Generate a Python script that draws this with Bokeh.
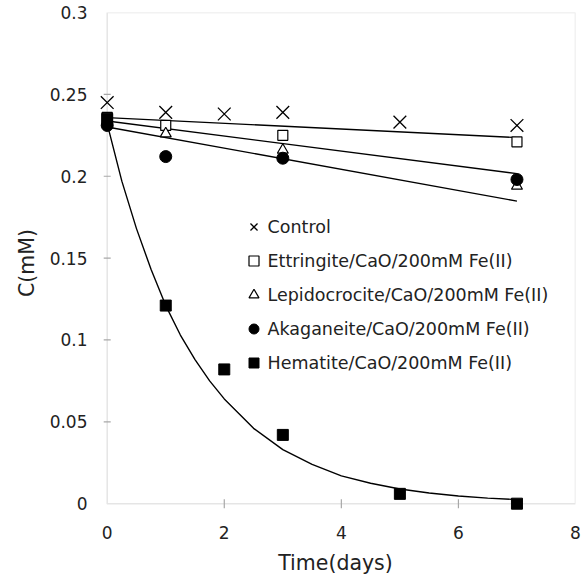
from bokeh.plotting import figure
from bokeh.models import FixedTicker, CustomJSTickFormatter, Legend, LegendItem, Range1d, BoxAnnotation
from bokeh.embed import file_html
from bokeh.resources import INLINE

# ---- data ----
days_control = [0, 1, 2, 3, 5, 7]
control = [0.245, 0.239, 0.238, 0.239, 0.233, 0.231]

days_mod = [0, 1, 3, 7]
ettringite = [0.236, 0.231, 0.225, 0.221]
lepidocrocite = [0.233, 0.226, 0.216, 0.194]
akaganeite = [0.231, 0.212, 0.211, 0.198]

days_hem = [0, 1, 2, 3, 5, 7]
hematite = [0.235, 0.121, 0.082, 0.042, 0.006, 0.0]

# trend lines
fit_days = [0, 7]
fit_top = [0.2358, 0.2236]
fit_mid = [0.2337, 0.2016]
fit_low = [0.2301, 0.1848]

fit_hem_days = [0, 0.25, 0.5, 0.75, 1, 1.25, 1.5, 1.75, 2, 2.5, 3, 3.5, 4, 4.5, 5, 5.5, 6, 6.5, 7]
fit_hem = [0.232, 0.197, 0.168, 0.143, 0.121, 0.103, 0.088, 0.075, 0.064, 0.046, 0.033,
           0.024, 0.017, 0.0125, 0.009, 0.0065, 0.0047, 0.0034, 0.0025]

x_ticks = [0, 2, 4, 6, 8]
y_ticks = [0, 0.05, 0.1, 0.15, 0.2, 0.25, 0.3]
x_min, x_max = 0, 8
y_min, y_max = 0, 0.3

FONT = "DejaVu Sans"
GREY = "#a8a8a8"

# ranges padded slightly on the low side so markers at 0 are not clipped
p = figure(width=587, height=577, output_backend="svg", toolbar_location=None,
           x_range=Range1d(-0.2, x_max), y_range=Range1d(-0.006, y_max),
           min_border_left=95, min_border_right=12, min_border_top=12, min_border_bottom=63)

p.xgrid.visible = False
p.ygrid.visible = False
p.outline_line_color = None
p.background_fill_color = "white"

# plot-area frame (axis lines) drawn at the axis limits
p.add_layout(BoxAnnotation(left=x_min, right=x_max, bottom=y_min, top=y_max,
                           fill_alpha=0, line_color=GREY, line_width=1.5, level="underlay"))

# tick stubs on the axis lines
p.scatter(x=x_ticks[1:-1], y=[y_min] * (len(x_ticks) - 2), marker="dash", angle=1.5708,
          size=9, line_color=GREY, line_width=1.2, level="underlay")
p.scatter(x=[x_min] * (len(y_ticks) - 2), y=y_ticks[1:-1], marker="dash",
          size=7, line_color=GREY, line_width=1.2, level="underlay")

for ax in (p.xaxis[0], p.yaxis[0]):
    ax.axis_line_color = None
    ax.major_tick_line_color = None
    ax.major_tick_in = 0
    ax.major_tick_out = 0
    ax.minor_tick_line_color = None
    ax.major_label_text_font = FONT
    ax.major_label_text_font_size = "17px"
    ax.major_label_text_color = "#222222"
    ax.axis_label_text_font = FONT
    ax.axis_label_text_font_size = "20.5px"
    ax.axis_label_text_font_style = "normal"
    ax.axis_label_text_color = "#222222"
    ax.formatter = CustomJSTickFormatter(code="return (Math.round(tick*100)/100).toString();")

p.xaxis.ticker = FixedTicker(ticks=x_ticks)
p.yaxis.ticker = FixedTicker(ticks=y_ticks)
p.xaxis.major_label_standoff = 12
p.yaxis.major_label_standoff = 8
p.xaxis.axis_label = "Time(days)"
p.yaxis.axis_label = "C(mM)"
p.xaxis.axis_label_standoff = 9
p.yaxis.axis_label_standoff = 8

# trend lines
lw = 1.4
p.line(fit_days, fit_top, line_color="black", line_width=lw)
p.line(fit_days, fit_mid, line_color="black", line_width=lw)
p.line(fit_days, fit_low, line_color="black", line_width=lw)
p.line(fit_hem_days, fit_hem, line_color="black", line_width=lw)

# markers
r_ctrl = p.scatter(days_control, control, marker="x", size=18, line_color="black", line_width=1.3)
r_ett = p.scatter(days_mod, ettringite, marker="square", size=10, fill_color="white",
                  line_color="black", line_width=1.2)
r_lep = p.scatter(days_mod, lepidocrocite, marker="triangle", size=11, fill_color="white",
                  line_color="black", line_width=1.2)
r_aka = p.scatter(days_mod, akaganeite, marker="circle", size=12, fill_color="black",
                  line_color="black")
r_hem = p.scatter(days_hem, hematite, marker="square", size=11, fill_color="black",
                  line_color="black")

legend = Legend(items=[
    LegendItem(label="Control", renderers=[r_ctrl]),
    LegendItem(label="Ettringite/CaO/200mM Fe(II)", renderers=[r_ett]),
    LegendItem(label="Lepidocrocite/CaO/200mM Fe(II)", renderers=[r_lep]),
    LegendItem(label="Akaganeite/CaO/200mM Fe(II)", renderers=[r_aka]),
    LegendItem(label="Hematite/CaO/200mM Fe(II)", renderers=[r_hem]),
], location=(145.5, 138))
legend.border_line_color = None
legend.background_fill_alpha = 0
legend.padding = 0
legend.margin = 0
legend.spacing = 9
legend.glyph_width = 25
legend.glyph_height = 25
legend.label_height = 25
legend.label_standoff = 2
legend.label_text_font = FONT
legend.label_text_font_size = "17.5px"
legend.label_text_color = "#222222"
p.add_layout(legend)

open("out.html", "w").write(file_html(p, INLINE))
